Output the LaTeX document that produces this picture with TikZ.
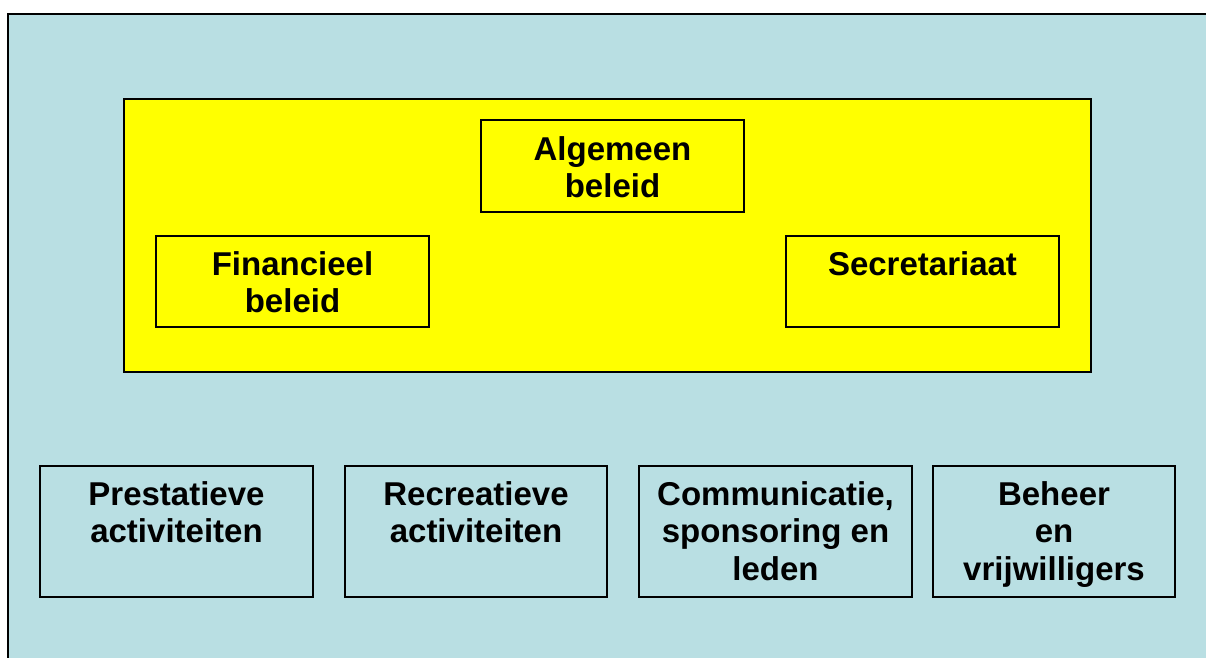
\documentclass[tikz,border=0pt]{standalone}
\usepackage{fontspec}
\setmainfont{Liberation Sans}
\definecolor{bgblue}{RGB}{185,223,227}
\definecolor{ylw}{RGB}{255,255,0}
\begin{document}
\begin{tikzpicture}[x=1pt,y=-1pt,
  box/.style={draw=black,line width=1.3pt,rectangle},
  lbl/.style={anchor=north,inner sep=0pt,align=center,font=\fontsize{33}{37.5}\selectfont\bfseries}]
\useasboundingbox (0,0) rectangle (1206,657);
\begin{scope}
\clip (0,0) rectangle (1206,657);
\fill[white] (-5,-5) rectangle (1230,680);
\draw[fill=bgblue,draw=black,line width=2pt] (8,14) rectangle (1240,690);
\end{scope}
\draw[fill=ylw,draw=black,line width=1.8pt] (124,99) rectangle (1091,372);
% boxes
\node[box,fill=ylw,minimum width=263pt,minimum height=92pt] (alg) at (612.5,166) {};
\node[box,fill=ylw,minimum width=273pt,minimum height=91pt] (fin) at (292.5,281.5) {};
\node[box,fill=ylw,minimum width=273pt,minimum height=91pt] (sec) at (922.5,281.5) {};
\node[box,minimum width=273pt,minimum height=131pt] (pre) at (176.5,531.5) {};
\node[box,minimum width=262pt,minimum height=131pt] (rec) at (476,531.5) {};
\node[box,minimum width=273pt,minimum height=131pt] (com) at (775.5,531.5) {};
\node[box,minimum width=242pt,minimum height=131pt] (beh) at (1054,531.5) {};
% labels
\node[lbl] (talg) at (612.5,136) {Algemeen\\beleid};
\node[lbl] (tfin) at (292.5,251) {Financieel\\beleid};
\node[lbl] (tsec) at (922.5,251) {Secretariaat};
\node[lbl] (tpre) at (176.5,481) {Prestatieve\\activiteiten};
\node[lbl] (trec) at (476,481) {Recreatieve\\activiteiten};
\node[lbl] (tcom) at (775.5,481) {Communicatie,\\sponsoring en\\leden};
\node[lbl] (tbeh) at (1054,481) {Beheer\\en\\vrijwilligers};
\end{tikzpicture}
\end{document}
